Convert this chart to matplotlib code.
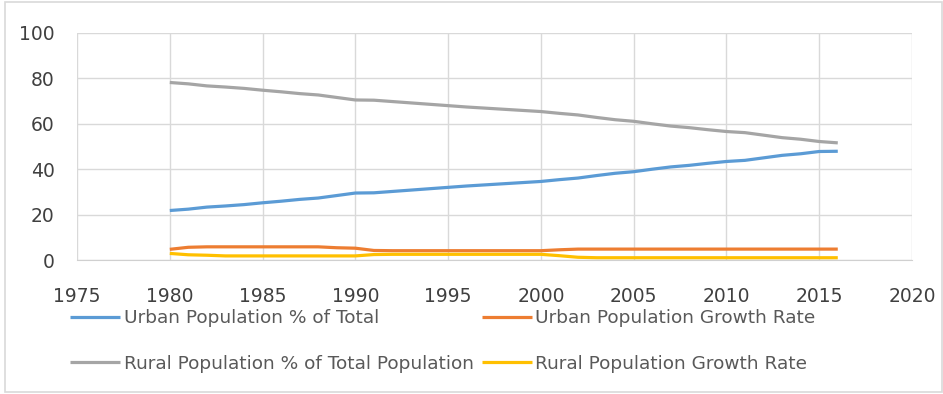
import numpy as np
import matplotlib.pyplot as plt
from matplotlib.patches import Rectangle

years = np.arange(1980, 2017)

urban_pct = [21.8, 22.4, 23.3, 23.8, 24.4, 25.2, 25.9, 26.7, 27.3, 28.4,
             29.5, 29.6, 30.2, 30.8, 31.4, 32.0, 32.6, 33.1, 33.6, 34.1,
             34.6, 35.4, 36.1, 37.2, 38.2, 38.9, 40.0, 41.0, 41.7, 42.6,
             43.4, 43.9, 45.0, 46.1, 46.8, 47.8, 47.9]
urban_growth = [4.7, 5.6, 5.8, 5.8, 5.8, 5.8, 5.8, 5.8, 5.8, 5.4,
                5.2, 4.2, 4.1, 4.1, 4.1, 4.1, 4.1, 4.1, 4.1, 4.1,
                4.1, 4.5, 4.8, 4.8, 4.8, 4.8, 4.8, 4.8, 4.8, 4.8,
                4.8, 4.8, 4.8, 4.8, 4.8, 4.8, 4.8]
rural_pct = [78.2, 77.6, 76.7, 76.2, 75.6, 74.8, 74.1, 73.3, 72.7, 71.6,
             70.5, 70.4, 69.8, 69.2, 68.6, 68.0, 67.4, 66.9, 66.4, 65.9,
             65.4, 64.6, 63.9, 62.8, 61.8, 61.1, 60.0, 59.0, 58.3, 57.4,
             56.6, 56.1, 55.0, 53.9, 53.2, 52.2, 51.6]
rural_growth = [2.9, 2.3, 2.1, 1.8, 1.8, 1.8, 1.8, 1.8, 1.8, 1.8,
                1.8, 2.4, 2.5, 2.5, 2.5, 2.5, 2.5, 2.5, 2.5, 2.5,
                2.5, 1.9, 1.2, 1.0, 1.0, 1.0, 1.0, 1.0, 1.0, 1.0,
                1.0, 1.0, 1.0, 1.0, 1.0, 1.0, 1.0]

labels = ['Urban Population % of Total', 'Urban Population Growth Rate',
          'Rural Population % of Total Population', 'Rural Population Growth Rate']
colors = ['#5B9BD5', '#ED7D31', '#A5A5A5', '#FFC000']

fig = plt.figure(figsize=(9.43, 3.94), dpi=100)
ax = fig.add_axes([77 / 943, 1 - 260 / 394, 835 / 943, 227 / 394])

lines = []
for vals, lab, c in zip([urban_pct, urban_growth, rural_pct, rural_growth], labels, colors):
    ln, = ax.plot(years, vals, color=c, lw=2.3, label=lab, solid_capstyle='butt')
    lines.append(ln)

ax.set_xlim(1975, 2020)
ax.set_ylim(0, 100)
ax.set_xticks(np.arange(1975, 2021, 5))
ax.set_yticks(np.arange(0, 101, 20))
ax.grid(True, color='#d9d9d9', lw=1)
ax.set_axisbelow(True)
for s in ['top', 'right', 'left']:
    ax.spines[s].set_visible(False)
ax.spines['bottom'].set_color('#d0d0d0')
ax.tick_params(length=0, labelsize=13.5, colors='#404040')
ax.tick_params(axis='y', pad=16)
ax.tick_params(axis='x', pad=19.5)

# legend: two columns, urban series on top row
order = [0, 2, 1, 3]
fig.legend([lines[i] for i in order], [labels[i] for i in order],
           loc='upper left', bbox_to_anchor=(70 / 943, 1 - 309 / 394),
           ncol=2, frameon=False, fontsize=13.3, labelcolor='#595959',
           handlelength=2.7, handletextpad=0.2, columnspacing=0.45,
           labelspacing=1.5, borderpad=0, borderaxespad=0)

fig.patches.append(Rectangle((5 / 943, 2 / 394), 1 - 6 / 943, 1 - 4 / 394,
                             transform=fig.transFigure, fill=False,
                             edgecolor='#d9d9d9', lw=1.2))

fig.savefig('out.png', dpi=100)
